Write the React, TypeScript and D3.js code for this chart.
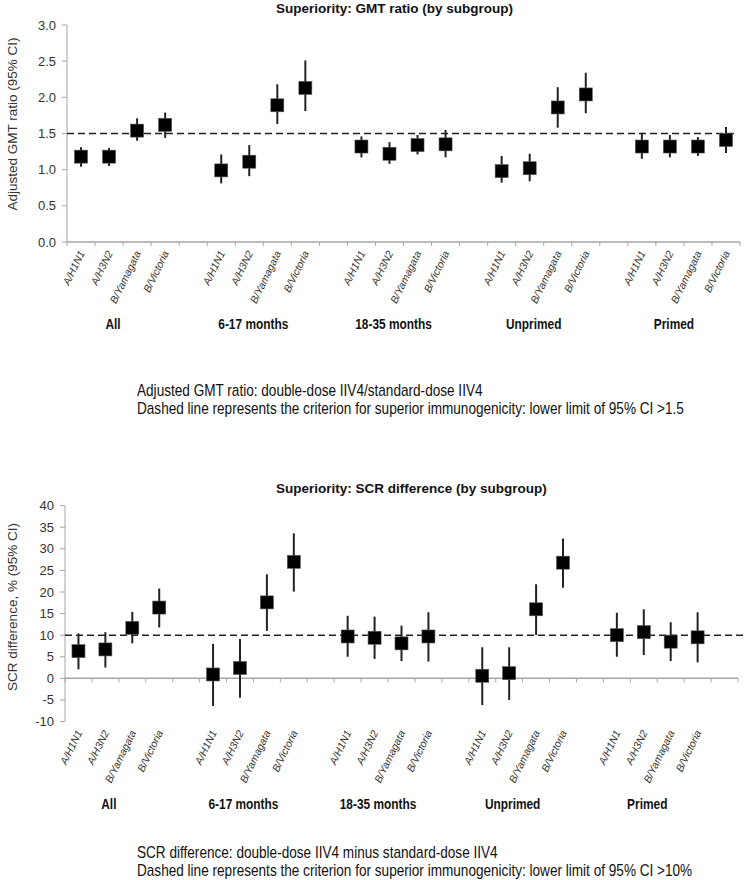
import React, { useRef, useEffect } from 'react'
import * as d3 from 'd3'

const strains = ['A/H1N1', 'A/H3N2', 'B/Yamagata', 'B/Victoria']
const groups = ['All', '6-17 months', '18-35 months', 'Unprimed', 'Primed']

// GMT ratio, 4 strains per subgroup in the order of `groups`
const gmtRatio = [1.18, 1.18, 1.54, 1.62, 0.99, 1.11, 1.89, 2.13, 1.32, 1.22, 1.34, 1.35, 0.98, 1.02, 1.86, 2.04, 1.32, 1.32, 1.32, 1.41]
const gmtLower = [1.04, 1.05, 1.40, 1.44, 0.81, 0.91, 1.63, 1.81, 1.17, 1.08, 1.21, 1.17, 0.82, 0.84, 1.58, 1.78, 1.15, 1.17, 1.19, 1.23]
const gmtUpper = [1.31, 1.30, 1.71, 1.79, 1.21, 1.34, 2.18, 2.51, 1.46, 1.38, 1.48, 1.55, 1.19, 1.22, 2.14, 2.34, 1.51, 1.48, 1.45, 1.59]
const gmtTicks = [0, 0.5, 1, 1.5, 2, 2.5, 3]

// SCR difference (%)
const scrDiff = [6.3, 6.7, 11.7, 16.4, 0.9, 2.4, 17.6, 27.0, 9.7, 9.4, 8.1, 9.7, 0.6, 1.2, 16.0, 26.8, 10.0, 10.7, 8.5, 9.5]
const scrLower = [2.1, 2.5, 8.1, 11.8, -6.4, -4.5, 11.0, 20.1, 5.0, 4.5, 4.0, 3.9, -6.2, -5.0, 10.0, 21.0, 5.0, 5.4, 4.0, 3.7]
const scrUpper = [10.4, 10.7, 15.4, 20.8, 8.0, 9.1, 24.1, 33.6, 14.5, 14.3, 12.2, 15.3, 7.2, 7.2, 21.8, 32.4, 15.2, 16.0, 13.0, 15.3]
const scrTicks = [-10, -5, 0, 5, 10, 15, 20, 25, 30, 35, 40]

const ARIAL = '"Liberation Sans", Arial, sans-serif'
// no Arial Narrow installed: squeeze Liberation Sans horizontally instead
const NARROW = 0.82

// plain hyphen for negatives, like the original
const hyphen = f => d => f(d).replace('\u2212', '-')

const panels = [
    {
        title: 'Superiority: GMT ratio (by subgroup)', titleY: 13,
        yTitle: 'Adjusted GMT ratio (95% CI)', yTitleY: 124,
        top: 25, bottom: 242, left: 67, right: 740, trailingGap: false,
        domain: [0, 3], ticks: gmtTicks, fmt: hyphen(d3.format('.1f')), criterion: 1.5, dashEnd: 735,
        values: gmtRatio, lower: gmtLower, upper: gmtUpper,
        notes: ['Adjusted GMT ratio: double-dose IIV4/standard-dose IIV4',
            'Dashed line represents the criterion for superior immunogenicity: lower limit of 95% CI >1.5'],
        noteY: 396,
    },
    {
        title: 'Superiority: SCR difference (by subgroup)', titleY: 493,
        yTitle: 'SCR difference, % (95% CI)', yTitleY: 607,
        top: 505.7, bottom: 721.5, left: 65, right: 738, trailingGap: true,
        domain: [-10, 40], ticks: scrTicks, fmt: hyphen(d3.format('d')), criterion: 10, dashEnd: 744,
        values: scrDiff, lower: scrLower, upper: scrUpper,
        notes: ['SCR difference: double-dose IIV4 minus standard-dose IIV4',
            'Dashed line represents the criterion for superior immunogenicity: lower limit of 95% CI >10%'],
        noteY: 858,
    },
]

const drawPanel = (root, p) => {
    // slots: 4 strains per subgroup, an empty slot between subgroups
    let slots = []
    groups.forEach((g, gi) => {
        strains.forEach(s => slots.push(g + '|' + s))
        if (gi < groups.length - 1 || p.trailingGap) slots.push('gap' + gi)
    })
    let x = d3.scaleBand().domain(slots).range([p.left, p.right]).padding(0)
    let y = d3.scaleLinear().domain(p.domain).range([p.bottom, p.top])
    let bw = x.bandwidth()
    let zeroY = y(Math.max(0, p.domain[0]))

    let g = root.append('g')

    // y axis
    g.append('line')
        .attr('x1', p.left).attr('x2', p.left)
        .attr('y1', p.top).attr('y2', p.bottom)
        .style('stroke', '#a6a6a6').style('stroke-width', '1px')
    g.selectAll('.ytick').data(p.ticks).enter().append('line')
        .attr('x1', p.left - 5).attr('x2', p.left)
        .attr('y1', d => y(d)).attr('y2', d => y(d))
        .style('stroke', '#a6a6a6')
    g.selectAll('.ylab').data(p.ticks).enter().append('text')
        .attr('x', p.left - 11).attr('y', d => y(d) + 4.5)
        .attr('text-anchor', 'end')
        .style('font-family', ARIAL).style('font-size', '13px').style('fill', '#333')
        .text(d => p.fmt(d))

    g.append('text')
        .attr('transform', `translate(17, ${p.yTitleY}) rotate(-90)`)
        .attr('text-anchor', 'middle')
        .style('font-family', ARIAL).style('font-size', '13.5px').style('fill', '#333')
        .text(p.yTitle)

    // x axis at zero
    g.append('line')
        .attr('x1', p.left).attr('x2', p.right)
        .attr('y1', zeroY).attr('y2', zeroY)
        .style('stroke', '#a6a6a6').style('stroke-width', '1.5px')
    g.selectAll('.xtick').data(slots.concat(['end'])).enter().append('line')
        .attr('x1', (d, i) => p.left + i * bw).attr('x2', (d, i) => p.left + i * bw)
        .attr('y1', zeroY).attr('y2', zeroY + 4)
        .style('stroke', '#a6a6a6')

    // criterion
    g.append('line')
        .attr('x1', p.left).attr('x2', p.dashEnd)
        .attr('y1', y(p.criterion)).attr('y2', y(p.criterion))
        .style('stroke', '#222').style('stroke-width', '1.6px')
        .style('stroke-dasharray', '7,4')

    let points = []
    groups.forEach((grp, gi) => strains.forEach((s, si) => {
        let k = gi * strains.length + si
        points.push({ key: grp + '|' + s, strain: s, v: p.values[k], lo: p.lower[k], hi: p.upper[k] })
    }))

    // strain labels
    g.selectAll('.slab').data(points).enter().append('text')
        .attr('transform', d => `translate(${x(d.key) + bw / 2 + 4}, ${p.bottom + 11}) rotate(-64)`)
        .attr('text-anchor', 'end')
        .style('font-family', ARIAL).style('font-size', '10.5px').style('font-style', 'italic').style('fill', '#333')
        .text(d => d.strain)

    // group labels
    g.selectAll('.glab').data(groups).enter().append('text')
        .attr('transform', d => `translate(${x(d + '|' + strains[0]) + bw * 2 - 10}, ${p.bottom + 87}) scale(${NARROW}, 1)`)
        .attr('text-anchor', 'middle')
        .style('font-family', ARIAL).style('font-size', '14.5px').style('font-weight', 'bold').style('fill', '#111')
        .text(d => d)

    // whiskers
    g.selectAll('.ci').data(points).enter().append('line')
        .attr('x1', d => x(d.key) + bw / 2).attr('x2', d => x(d.key) + bw / 2)
        .attr('y1', d => y(d.hi)).attr('y2', d => y(d.lo))
        .style('stroke', '#222').style('stroke-width', '2px')

    // point estimates
    let sz = 13
    g.selectAll('.pt').data(points).enter().append('rect')
        .attr('x', d => x(d.key) + bw / 2 - sz / 2)
        .attr('y', d => y(d.v) - sz / 2)
        .attr('width', sz).attr('height', sz)
        .style('fill', '#000').style('stroke', '#555').style('stroke-width', '0.6px')

    // title
    g.append('text')
        .attr('x', 276).attr('y', p.titleY)
        .style('font-family', ARIAL).style('font-size', '13.5px').style('font-weight', 'bold').style('fill', '#111')
        .text(p.title)

    // footnotes
    g.selectAll('.note').data(p.notes).enter().append('text')
        .attr('transform', (d, i) => `translate(137, ${p.noteY + i * 18}) scale(0.85, 1)`)
        .style('font-family', ARIAL).style('font-size', '16px').style('fill', '#111')
        .text(d => d)
}

const App = () => {
    const element = useRef(null)

    useEffect(() => {
        let root = d3.select(element.current)
        root.selectAll('*').remove()
        panels.forEach(p => drawPanel(root, p))
        return () => { root.selectAll('*').remove() }
    }, [])

    return (
        <div style={{ position: 'absolute', left: 0, top: 0 }}>
            <svg ref={element} width={745} height={880} style={{ display: 'block', background: '#fff' }} />
        </div>
    )
}

export default App
